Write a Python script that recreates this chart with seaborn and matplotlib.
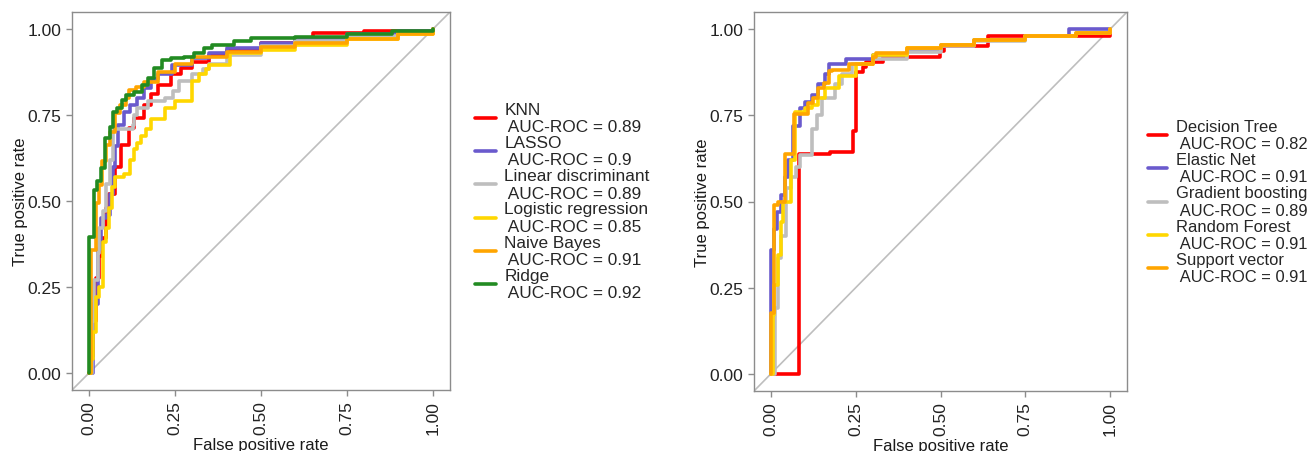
import pandas as pd
import seaborn as sns
import matplotlib.pyplot as plt
from matplotlib.lines import Line2D

# ROC curves, left panel
knn_fpr = [0, 0.005, 0.01, 0.019, 0.028, 0.036, 0.048, 0.058, 0.075, 0.092, 0.116, 0.131, 0.16, 0.18, 0.199, 0.237, 0.266, 0.3, 0.35, 0.4, 0.5, 0.6, 0.65, 0.8, 1.0]
knn_tpr = [0, 0.05, 0.15, 0.276, 0.34, 0.392, 0.48, 0.52, 0.6, 0.663, 0.712, 0.741, 0.78, 0.81, 0.837, 0.871, 0.886, 0.905, 0.925, 0.94, 0.96, 0.975, 0.99, 0.995, 1.0]

lasso_fpr = [0, 0.01, 0.025, 0.035, 0.05, 0.06, 0.07, 0.075, 0.085, 0.1, 0.12, 0.14, 0.16, 0.18, 0.2, 0.24, 0.3, 0.35, 0.4, 0.5, 0.6, 0.75, 0.9, 1.0]
lasso_tpr = [0, 0.2, 0.36, 0.45, 0.46, 0.52, 0.6, 0.66, 0.72, 0.76, 0.78, 0.8, 0.83, 0.855, 0.87, 0.895, 0.915, 0.93, 0.945, 0.96, 0.97, 0.985, 0.995, 1.0]

lda_fpr = [0, 0.008, 0.015, 0.025, 0.03, 0.04, 0.05, 0.06, 0.07, 0.127, 0.13, 0.14, 0.17, 0.22, 0.245, 0.26, 0.3, 0.33, 0.35, 0.4, 0.5, 0.6, 0.75, 0.9, 1.0]
lda_tpr = [0, 0.15, 0.27, 0.35, 0.42, 0.47, 0.55, 0.62, 0.71, 0.72, 0.75, 0.77, 0.79, 0.80, 0.82, 0.85, 0.87, 0.885, 0.9, 0.925, 0.95, 0.965, 0.98, 0.99, 1.0]

logit_fpr = [0, 0.005, 0.01, 0.02, 0.03, 0.04, 0.05, 0.058, 0.065, 0.075, 0.1, 0.12, 0.13, 0.14, 0.15, 0.165, 0.18, 0.22, 0.25, 0.3, 0.32, 0.34, 0.35, 0.41, 0.5, 0.6, 0.75, 0.9, 1.0]
logit_tpr = [0, 0.04, 0.12, 0.22, 0.25, 0.38, 0.42, 0.48, 0.54, 0.57, 0.58, 0.62, 0.65, 0.67, 0.69, 0.71, 0.74, 0.77, 0.79, 0.85, 0.87, 0.885, 0.895, 0.93, 0.94, 0.955, 0.97, 0.985, 1.0]

nb_fpr = [0, 0.005, 0.021, 0.029, 0.036, 0.048, 0.061, 0.075, 0.09, 0.107, 0.116, 0.136, 0.16, 0.2, 0.25, 0.3, 0.4, 0.5, 0.6, 0.75, 0.9, 1.0]
nb_tpr = [0, 0.358, 0.494, 0.547, 0.615, 0.663, 0.702, 0.755, 0.78, 0.799, 0.823, 0.833, 0.847, 0.875, 0.9, 0.918, 0.935, 0.948, 0.96, 0.972, 0.985, 1.0]

ridge_fpr = [0, 0, 0.013, 0.022, 0.034, 0.047, 0.06, 0.07, 0.082, 0.095, 0.108, 0.13, 0.155, 0.17, 0.189, 0.213, 0.237, 0.276, 0.305, 0.334, 0.358, 0.42, 0.47, 0.6, 0.75, 0.88, 1.0]
ridge_tpr = [0, 0.395, 0.532, 0.559, 0.595, 0.683, 0.716, 0.76, 0.77, 0.794, 0.808, 0.818, 0.837, 0.857, 0.886, 0.91, 0.915, 0.92, 0.93, 0.944, 0.953, 0.965, 0.973, 0.978, 0.985, 0.995, 1.0]

# ROC curves, right panel
dt_fpr = [0, 0.083, 0.174, 0.241, 0.25, 0.27, 0.28, 0.33, 0.498, 0.51, 0.64, 1.0]
dt_tpr = [0, 0.638, 0.643, 0.706, 0.875, 0.889, 0.904, 0.918, 0.937, 0.952, 0.98, 1.0]

en_fpr = [0, 0, 0.01, 0.018, 0.03, 0.04, 0.05, 0.065, 0.085, 0.1, 0.12, 0.14, 0.16, 0.17, 0.22, 0.3, 0.4, 0.5, 0.6, 0.75, 0.88, 1.0]
en_tpr = [0, 0.36, 0.42, 0.47, 0.52, 0.57, 0.62, 0.72, 0.77, 0.79, 0.81, 0.84, 0.87, 0.898, 0.913, 0.925, 0.94, 0.955, 0.97, 0.98, 1.0, 1.0]

gb_fpr = [0, 0.012, 0.02, 0.03, 0.045, 0.06, 0.075, 0.086, 0.12, 0.135, 0.15, 0.19, 0.21, 0.24, 0.3, 0.4, 0.5, 0.6, 0.75, 0.9, 1.0]
gb_tpr = [0, 0.19, 0.335, 0.40, 0.54, 0.57, 0.6, 0.634, 0.71, 0.75, 0.8, 0.84, 0.87, 0.9, 0.915, 0.935, 0.95, 0.965, 0.98, 0.99, 1.0]

rf_fpr = [0, 0.005, 0.01, 0.02, 0.03, 0.035, 0.06, 0.07, 0.1, 0.12, 0.14, 0.16, 0.2, 0.25, 0.3, 0.4, 0.5, 0.6, 0.75, 0.9, 1.0]
rf_tpr = [0, 0.17, 0.257, 0.344, 0.44, 0.5, 0.62, 0.76, 0.77, 0.78, 0.8, 0.83, 0.865, 0.9, 0.925, 0.945, 0.955, 0.97, 0.98, 0.99, 1.0]

svm_fpr = [0, 0, 0.01, 0.02, 0.042, 0.069, 0.11, 0.125, 0.14, 0.155, 0.17, 0.18, 0.23, 0.3, 0.31, 0.4, 0.5, 0.6, 0.75, 0.9, 1.0]
svm_tpr = [0, 0.176, 0.489, 0.5, 0.638, 0.754, 0.785, 0.8, 0.83, 0.845, 0.88, 0.883, 0.9, 0.92, 0.93, 0.945, 0.955, 0.97, 0.98, 0.99, 1.0]

left_models = ["KNN", "LASSO", "Linear discriminant", "Logistic regression", "Naive Bayes", "Ridge"]
left_auc = ["0.89", "0.9", "0.89", "0.85", "0.91", "0.92"]
left_colors = ["#FF0000", "#6A5ACD", "#BEBEBE", "#FFD700", "#FFA500", "#228B22"]
left_fprs = [knn_fpr, lasso_fpr, lda_fpr, logit_fpr, nb_fpr, ridge_fpr]
left_tprs = [knn_tpr, lasso_tpr, lda_tpr, logit_tpr, nb_tpr, ridge_tpr]

right_models = ["Decision Tree", "Elastic Net", "Gradient boosting", "Random Forest", "Support vector"]
right_auc = ["0.82", "0.91", "0.89", "0.91", "0.91"]
right_colors = ["#FF0000", "#6A5ACD", "#BEBEBE", "#FFD700", "#FFA500"]
right_fprs = [dt_fpr, en_fpr, gb_fpr, rf_fpr, svm_fpr]
right_tprs = [dt_tpr, en_tpr, gb_tpr, rf_tpr, svm_tpr]

ticks = [0, 0.25, 0.5, 0.75, 1.0]
tick_labels = ["0.00", "0.25", "0.50", "0.75", "1.00"]

sns.set_style("ticks")
plt.rcParams["font.family"] = ["Liberation Sans", "DejaVu Sans"]

fig = plt.figure(figsize=(13.14, 4.52), dpi=100)
ax1 = fig.add_axes([72 / 1314, 61 / 452, 378 / 1314, 378 / 452])
ax2 = fig.add_axes([754 / 1314, 60 / 452, 373 / 1314, 379 / 452])


def draw_panel(ax, models, aucs, colors, fprs, tprs, leg_x, leg_size):
    labels = [f"{m}\n AUC-ROC = {a}" for m, a in zip(models, aucs)]
    frames = []
    for lab, f, t in zip(labels, fprs, tprs):
        frames.append(pd.DataFrame({"fpr": f, "tpr": t, "model": lab}))
    df = pd.concat(frames, ignore_index=True)

    sns.lineplot(data=df, x="fpr", y="tpr", hue="model", hue_order=labels,
                 palette=dict(zip(labels, colors)), sort=False, estimator=None,
                 drawstyle="steps-post", linewidth=2.6, legend=False, ax=ax)
    ax.axline((0, 0), (1, 1), color="#BEBEBE", lw=1.2, zorder=1)

    ax.set_xlim(-0.05, 1.05)
    ax.set_ylim(-0.05, 1.05)
    ax.set_xticks(ticks, tick_labels, rotation=90)
    ax.set_yticks(ticks, tick_labels)
    ax.set_xlabel("False positive rate", fontsize=12, labelpad=2, color="#1a1a1a")
    ax.set_ylabel("True positive rate", fontsize=12, labelpad=0, color="#1a1a1a")
    ax.tick_params(direction="out", length=4, width=1, color="#8c8c8c",
                   labelsize=12.5, labelcolor="#222222")
    for s in ax.spines.values():
        s.set_visible(True)
        s.set_color("#8c8c8c")
        s.set_linewidth(1)

    handles = [Line2D([], [], color=c, lw=2.6) for c in colors]
    leg = ax.legend(handles, labels, loc="center left", bbox_to_anchor=(leg_x, 0.5),
                    frameon=False, fontsize=leg_size, handlelength=1.2, handletextpad=0.5,
                    labelspacing=0.05, borderpad=0, borderaxespad=0)
    for t in leg.get_texts():
        t.set_linespacing(1.2)


draw_panel(ax1, left_models, left_auc, left_colors, left_fprs, left_tprs, 1.066, 12.4)
draw_panel(ax2, right_models, right_auc, right_colors, right_fprs, right_tprs, 1.055, 11.9)

fig.savefig("out.png", dpi=100)
